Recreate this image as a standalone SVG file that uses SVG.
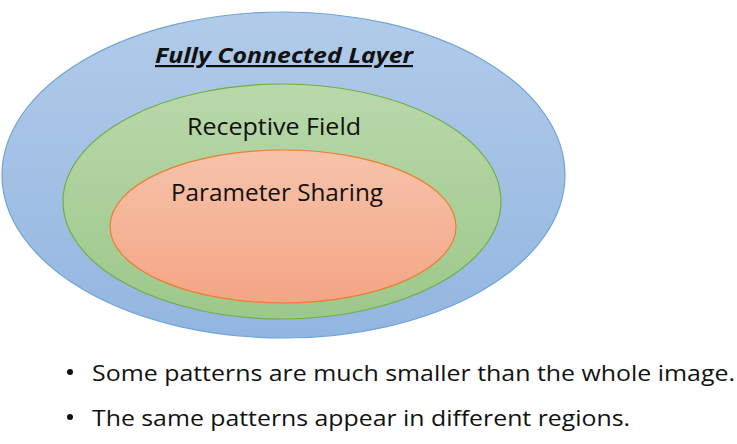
<svg xmlns="http://www.w3.org/2000/svg" width="737" height="444" viewBox="0 0 737 444">
<style>
.lbl{font-family:"Open Sans","Liberation Sans",sans-serif;fill:#111;}
</style>
<defs>
<linearGradient id="gb" x1="0" y1="0" x2="0" y2="1"><stop offset="0" stop-color="#b1cbe9"/><stop offset="1" stop-color="#93b6e0"/></linearGradient>
<linearGradient id="gg" x1="0" y1="0" x2="0" y2="1"><stop offset="0" stop-color="#b9d8ab"/><stop offset="1" stop-color="#9dc88a"/></linearGradient>
<linearGradient id="go" x1="0" y1="0" x2="0" y2="1"><stop offset="0" stop-color="#f6c3ab"/><stop offset="1" stop-color="#f4a584"/></linearGradient>
</defs>
<rect width="737" height="444" fill="#fff"/>
<g id="fully-connected">
<ellipse cx="283.5" cy="175" rx="281.5" ry="163" fill="url(#gb)" stroke="#6fa3d8" stroke-width="1.2"/>
<text class="lbl" x="284" y="63" text-anchor="middle" font-size="22" font-weight="bold" font-style="italic" text-decoration="underline" textLength="258" lengthAdjust="spacingAndGlyphs">Fully Connected Layer</text>
</g>
<g id="receptive-field">
<ellipse cx="282" cy="201.5" rx="219" ry="117.5" fill="url(#gg)" stroke="#70ad47" stroke-width="1.2"/>
<text class="lbl" x="274" y="135" text-anchor="middle" font-size="23" textLength="174" lengthAdjust="spacingAndGlyphs">Receptive Field</text>
</g>
<g id="parameter-sharing">
<ellipse cx="283" cy="226.5" rx="173" ry="76.5" fill="url(#go)" stroke="#ed7d31" stroke-width="1.2"/>
<text class="lbl" x="277" y="201" text-anchor="middle" font-size="23" textLength="212" lengthAdjust="spacingAndGlyphs">Parameter Sharing</text>
</g>
<g id="connectors"/>
<g id="bullets">
<circle cx="70" cy="372" r="3" fill="#111"/>
<text class="lbl" x="92" y="381" font-size="22.5" textLength="643" lengthAdjust="spacingAndGlyphs">Some patterns are much smaller than the whole image.</text>
<circle cx="70" cy="417" r="3" fill="#111"/>
<text class="lbl" x="92" y="426" font-size="22.5" textLength="538" lengthAdjust="spacingAndGlyphs">The same patterns appear in different regions.</text>
</g>
</svg>
